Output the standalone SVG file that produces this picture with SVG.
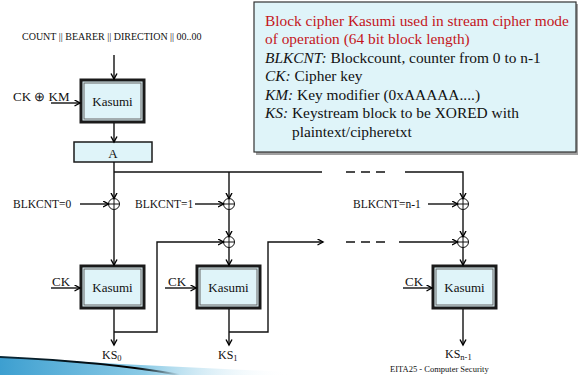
<svg xmlns="http://www.w3.org/2000/svg" width="578" height="375" viewBox="0 0 578 375">
<defs>
<marker id="arr" markerUnits="userSpaceOnUse" markerWidth="10" markerHeight="10" refX="6" refY="3.5" orient="auto">
<path d="M0.5,0.5 L6,3.5 L0.5,6.5" fill="none" stroke="#000" stroke-width="1.4"/>
</marker>
<linearGradient id="sw" x1="0" y1="0" x2="1" y2="0">
<stop offset="0" stop-color="#3d9fd0"/>
<stop offset="0.5" stop-color="#8ccbe6"/>
<stop offset="1" stop-color="#ffffff" stop-opacity="0"/>
</linearGradient>
<linearGradient id="swl" x1="0" y1="0" x2="1" y2="0">
<stop offset="0" stop-color="#0a2a3a"/>
<stop offset="0.75" stop-color="#000"/>
<stop offset="1" stop-color="#000" stop-opacity="0"/>
</linearGradient>
</defs>
<style>
text{font-family:"Liberation Serif","Times New Roman",serif;fill:#111}
.k{font-size:13px}
.lbl{font-size:11.5px}
.ks{font-size:12px}
.sub{font-size:8.5px}
.ln{fill:none;stroke:#111;stroke-width:1.4}
.ar{marker-end:url(#arr)}
.kout{fill:#dff4f9;stroke:#1a1a1a;stroke-width:3}
.kin{fill:none;stroke:#666;stroke-width:1}
.x{fill:#fff;stroke:#111;stroke-width:1}
.box{font-size:15.4px}
.red{fill:#c4161c}
.it{font-style:italic}
</style>

<g id="swoosh">
<polygon points="0,357 120,364 290,372 290,375 0,375" fill="url(#sw)"/>
<path d="M0,357 Q110,362 180,375" fill="none" stroke="url(#swl)" stroke-width="2"/>
</g>

<g id="info">
<rect x="256" y="4" width="322" height="151" fill="#a0a0a0"/>
<rect x="254" y="2" width="322" height="150" fill="#dff4f9" stroke="#333" stroke-width="1.2"/>
<text class="box red" x="265" y="26">Block cipher Kasumi used in stream cipher mode</text>
<text class="box red" x="265" y="44">of operation (64 bit block length)</text>
<text class="box" x="265" y="63"><tspan class="it">BLKCNT:</tspan> Blockcount, counter from 0 to n-1</text>
<text class="box" x="265" y="81"><tspan class="it">CK:</tspan> Cipher key</text>
<text class="box" x="265" y="100"><tspan class="it">KM:</tspan> Key modifier (0xAAAAA....)</text>
<text class="box" x="265" y="118"><tspan class="it">KS:</tspan> Keystream block to be XORED with</text>
<text class="box" x="292" y="137">plaintext/cipheretxt</text>
</g>

<g id="input">
<text x="22" y="40" style="font-size:10px">COUNT || BEARER || DIRECTION || 00..00</text>
</g>

<g id="kasumiTop">
<rect class="kout" x="81" y="80" width="63" height="42"/>
<rect class="kin" x="84" y="83" width="57" height="36"/>
<text class="k" x="112.5" y="106" text-anchor="middle">Kasumi</text>
</g>
<g id="ckkm">
<text class="k" x="13" y="101">CK ⊕ KM</text>
</g>

<g id="A">
<rect x="74" y="142" width="78" height="20" fill="#dff4f9" stroke="#1a1a1a" stroke-width="1.5"/>
<text class="k" x="113" y="158" text-anchor="middle">A</text>
</g>

<g id="xor0"><circle class="x" cx="114" cy="204" r="5.5"/><path class="ln" style="stroke-width:1" d="M108.5,204H119.5M114,198.5V209.5"/></g>
<g id="xor1"><circle class="x" cx="229" cy="204" r="5.5"/><path class="ln" style="stroke-width:1" d="M223.5,204H234.5M229,198.5V209.5"/></g>
<g id="xor1b"><circle class="x" cx="229" cy="242" r="5.5"/><path class="ln" style="stroke-width:1" d="M223.5,242H234.5M229,236.5V247.5"/></g>
<g id="xorn"><circle class="x" cx="463" cy="204" r="5.5"/><path class="ln" style="stroke-width:1" d="M457.5,204H468.5M463,198.5V209.5"/></g>
<g id="xornb"><circle class="x" cx="463" cy="242" r="5.5"/><path class="ln" style="stroke-width:1" d="M457.5,242H468.5M463,236.5V247.5"/></g>

<g id="blk0"><text class="lbl" x="13" y="208">BLKCNT=0</text></g>
<g id="blk1"><text class="lbl" x="135" y="208">BLKCNT=1</text></g>
<g id="blkn"><text class="lbl" x="353" y="208">BLKCNT=n-1</text></g>

<g id="kasumi0">
<rect class="kout" x="81" y="266" width="63" height="42"/>
<rect class="kin" x="84" y="269" width="57" height="36"/>
<text class="k" x="112.5" y="292" text-anchor="middle">Kasumi</text>
</g>
<g id="kasumi1">
<rect class="kout" x="197" y="266" width="63" height="42"/>
<rect class="kin" x="200" y="269" width="57" height="36"/>
<text class="k" x="228.5" y="292" text-anchor="middle">Kasumi</text>
</g>
<g id="kasumin">
<rect class="kout" x="433" y="266" width="63" height="42"/>
<rect class="kin" x="436" y="269" width="57" height="36"/>
<text class="k" x="464.5" y="292" text-anchor="middle">Kasumi</text>
</g>

<g id="ck0"><text class="k" x="52" y="286">CK</text></g>
<g id="ck1"><text class="k" x="168" y="286">CK</text></g>
<g id="ckn"><text class="k" x="405" y="286">CK</text></g>

<g id="ks0"><text class="ks" x="102" y="359">KS<tspan class="sub" dy="2">0</tspan></text></g>
<g id="ks1"><text class="ks" x="218" y="359">KS<tspan class="sub" dy="2">1</tspan></text></g>
<g id="ksn"><text class="ks" x="445" y="358">KS<tspan class="sub" dy="1.5">n-1</tspan></text></g>

<g id="footer"><text x="390" y="371.5" style="font-size:8.5px">EITA25 - Computer Security</text></g>

<g id="connectors">
<path class="ln ar" d="M114,55V79"/>
<path class="ln ar" d="M51,103H80"/>
<path class="ln ar" d="M114,123V142"/>
<path class="ln ar" d="M114,162V198.5"/>
<path class="ln" d="M114,172H322"/>
<path class="ln" d="M346,172H386" stroke-dasharray="9,6"/>
<path class="ln ar" d="M405,172H463V198.5"/>
<path class="ln ar" d="M229,172V198.5"/>
<path class="ln ar" d="M80,204H108.5"/>
<path class="ln ar" d="M195,204H223.5"/>
<path class="ln ar" d="M428,204H457.5"/>
<path class="ln ar" d="M114,209.5V265"/>
<path class="ln ar" d="M229,209.5V236.5"/>
<path class="ln ar" d="M229,247.5V265"/>
<path class="ln ar" d="M463,209.5V236.5"/>
<path class="ln ar" d="M463,247.5V265"/>
<path class="ln ar" d="M51,288H80"/>
<path class="ln ar" d="M165,288H196"/>
<path class="ln ar" d="M403,288H432"/>
<path class="ln ar" d="M114,309V345"/>
<path class="ln ar" d="M229,309V345"/>
<path class="ln ar" d="M463,309V345"/>
<path class="ln ar" d="M114,332H157V242H223.5"/>
<path class="ln ar" d="M229,332H268V242H323"/>
<path class="ln" d="M346,242H386" stroke-dasharray="9,6"/>
<path class="ln ar" d="M399,242H457.5"/>
</g>
</svg>
